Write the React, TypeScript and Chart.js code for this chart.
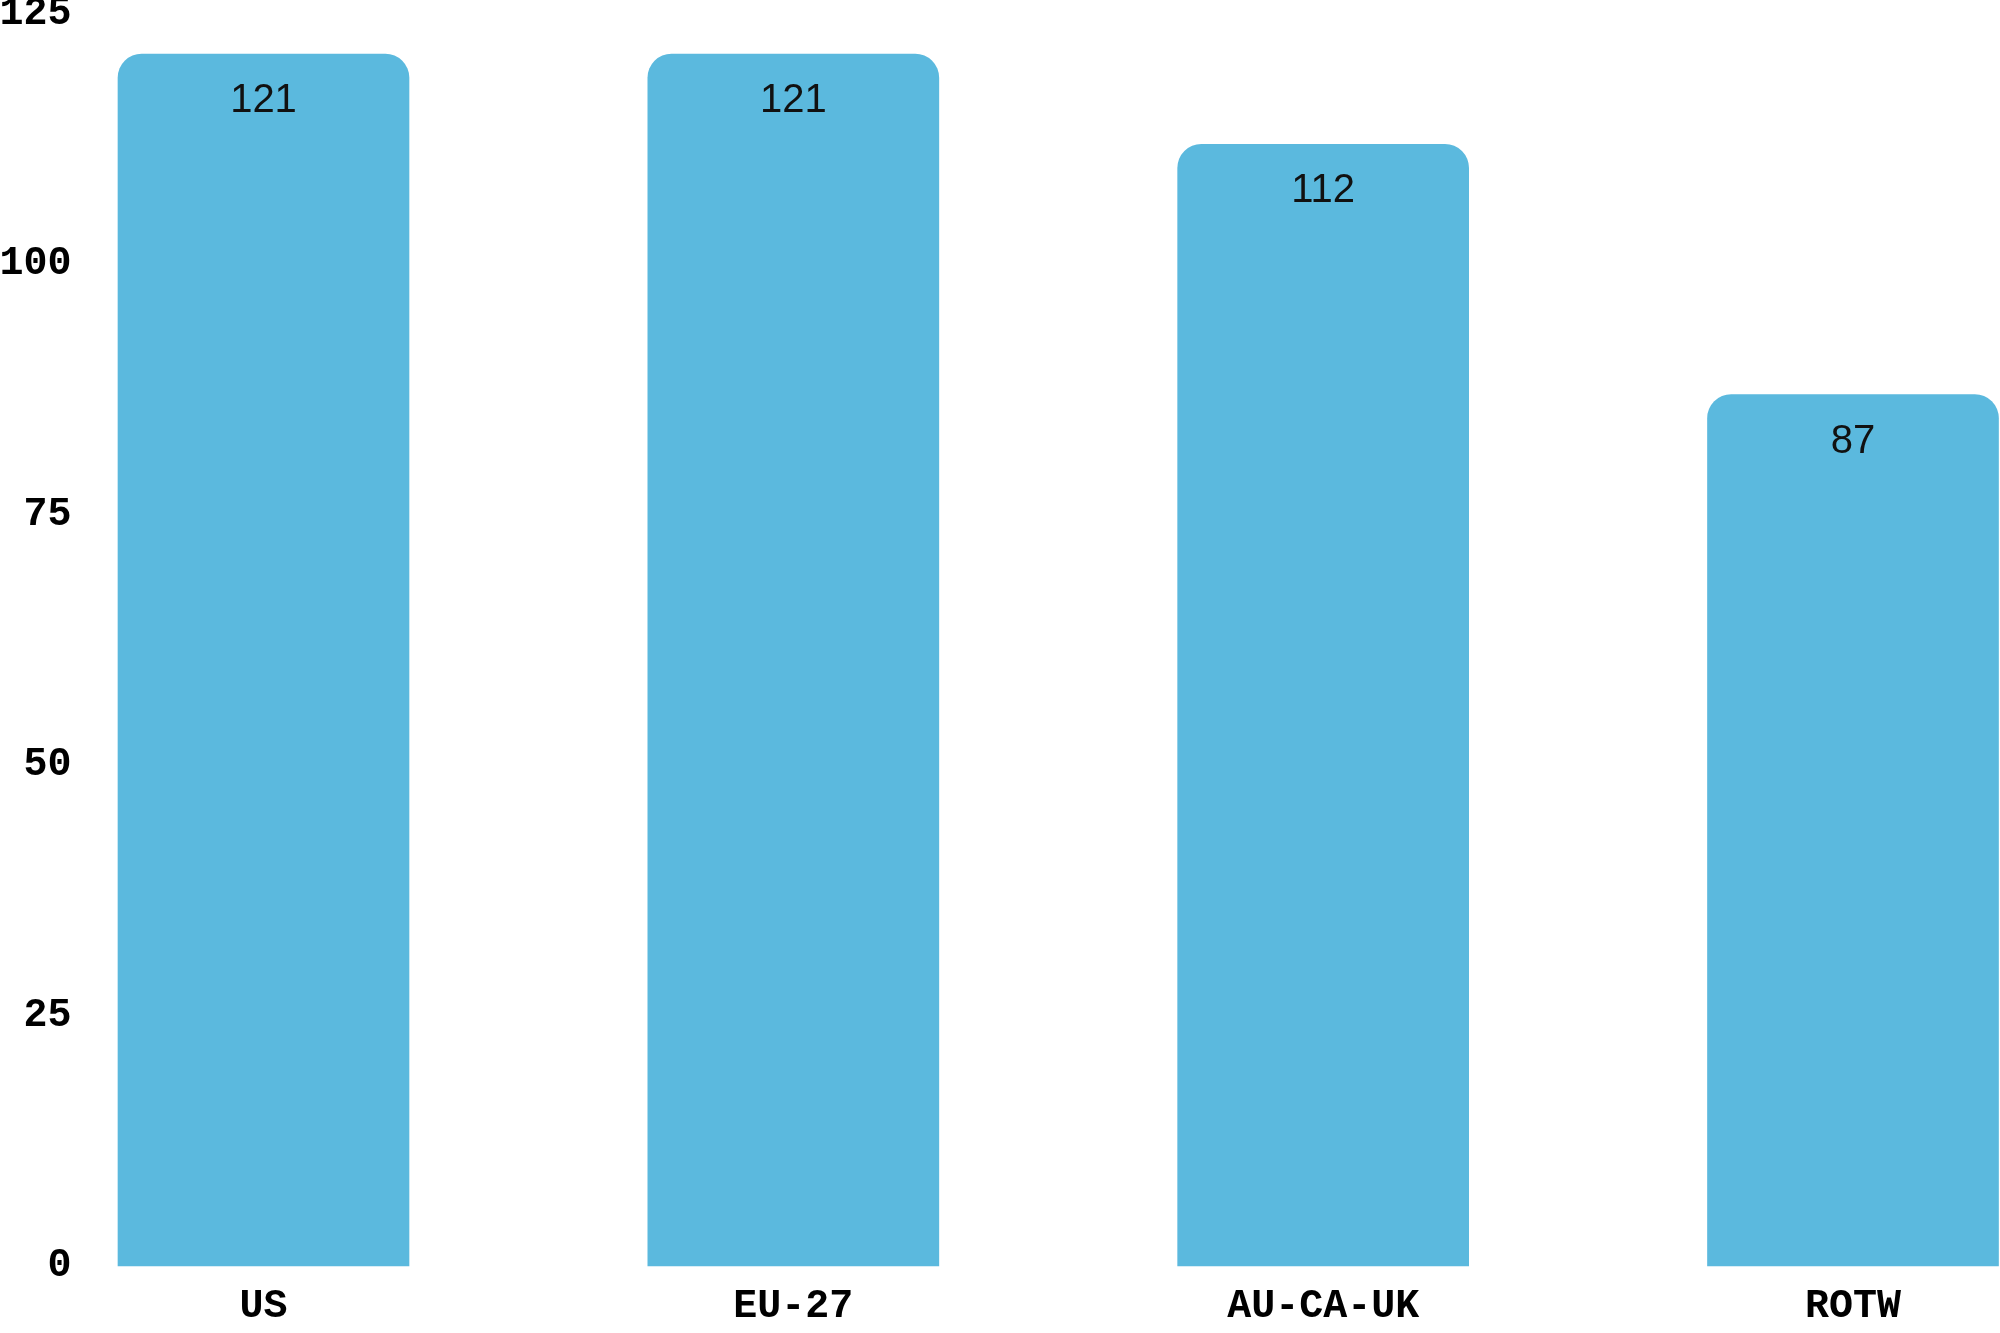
import React, { useEffect, useRef } from "react";
import { Chart, registerables } from "chart.js";

Chart.register(...registerables);

const categories: string[] = ["US", "EU-27", "AU-CA-UK", "ROTW"];
const values: number[] = [121, 121, 112, 87];
const yTicks: number[] = [0, 25, 50, 75, 100, 125];

const BAR_COLOR = "#5bb9de";
const MONO = "'Liberation Mono', 'Courier New', monospace";
const SANS = "'Liberation Sans', Arial, sans-serif";

const valueLabels = {
  id: "valueLabels",
  afterDatasetsDraw(chart: any) {
    const ctx = chart.ctx;
    const meta = chart.getDatasetMeta(0);
    const data = chart.data.datasets[0].data as number[];
    ctx.save();
    ctx.font = `normal 40px ${SANS}`;
    ctx.fillStyle = "#111111";
    ctx.textAlign = "center";
    ctx.textBaseline = "middle";
    meta.data.forEach((el: any, i: number) => {
      ctx.fillText(String(data[i]), el.x, el.y + 47);
    });
    ctx.restore();
  },
};

export default function App() {
  const ref = useRef<HTMLCanvasElement | null>(null);

  useEffect(() => {
    document.body.style.margin = "0";
    const canvas = ref.current;
    if (!canvas) return;
    const chart = new Chart(canvas, {
      type: "bar",
      data: {
        labels: categories,
        datasets: [
          {
            data: values,
            backgroundColor: BAR_COLOR,
            borderWidth: 0,
            borderRadius: 24,
            borderSkipped: "start",
            barThickness: 291,
            clip: false as any,
          },
        ],
      },
      options: {
        responsive: false,
        animation: false,
        events: [],
        layout: { padding: { top: 14, right: 147, bottom: 2, left: 0 } },
        plugins: {
          legend: { display: false },
          tooltip: { enabled: false },
        },
        scales: {
          x: {
            type: "category",
            offset: false,
            grid: { display: false, drawTicks: false },
            border: { display: false },
            ticks: {
              padding: 17,
              color: "#000000",
              maxRotation: 0,
              autoSkip: false,
              font: { family: MONO, size: 40, weight: "bold", lineHeight: 1.2 },
            },
            afterFit: (scale: any) => {
              scale.paddingLeft = 0;
              scale.paddingRight = 0;
              scale.height = 65;
            },
          },
          y: {
            min: 0,
            max: 125,
            grid: { display: false, drawTicks: false },
            border: { display: false },
            afterBuildTicks: (scale: any) => {
              scale.ticks = yTicks.map((v) => ({ value: v }));
            },
            ticks: {
              padding: 192,
              color: "#000000",
              font: { family: MONO, size: 40, weight: "bold", lineHeight: 1.2 },
            },
            afterFit: (scale: any) => {
              scale.width = 263.5;
              scale.paddingTop = 0;
              scale.paddingBottom = 0;
            },
          },
        },
      },
      plugins: [valueLabels],
    });
    return () => chart.destroy();
  }, []);

  return (
    <canvas
      ref={ref}
      width={2000}
      height={1333}
      style={{ display: "block", width: "2000px", height: "1333px" }}
    />
  );
}
